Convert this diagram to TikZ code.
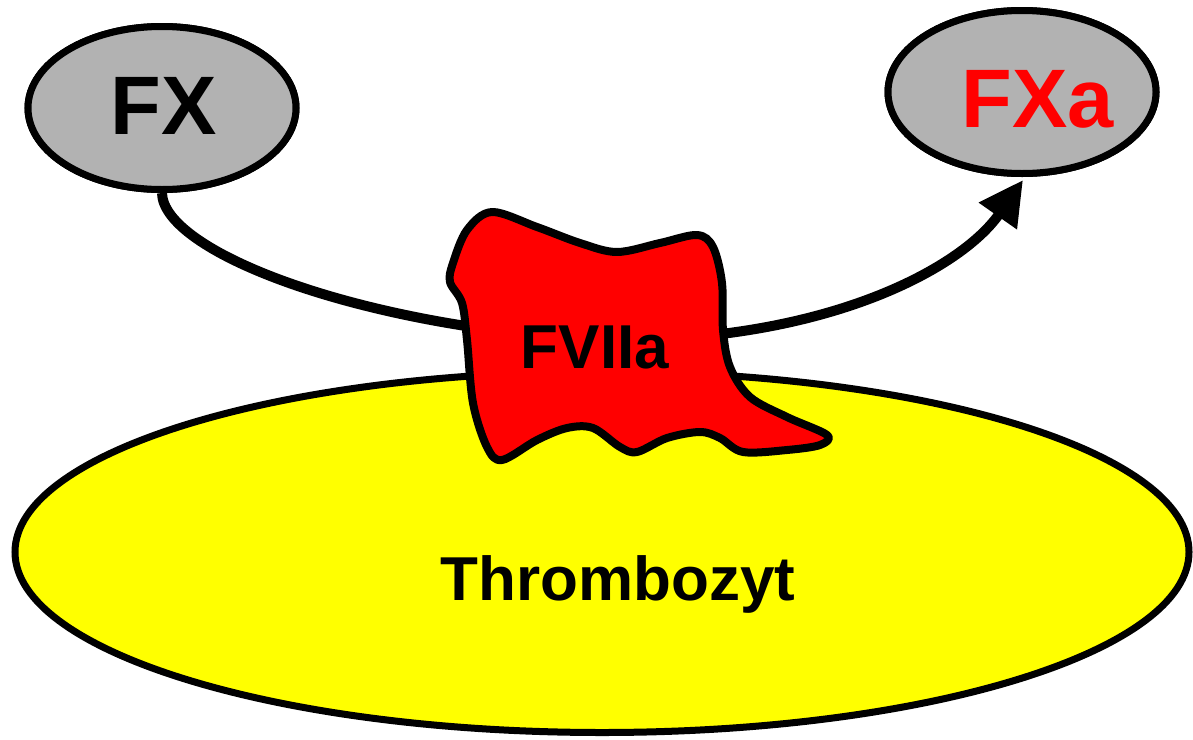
\documentclass[tikz,border=0pt]{standalone}
\usepackage{fontspec}
\setmainfont{Liberation Sans}
\usepackage{tikz}
\usetikzlibrary{shapes.geometric, arrows.meta}
\definecolor{cellyel}{RGB}{255,255,0}
\definecolor{enzred}{RGB}{255,0,0}
\definecolor{protgray}{RGB}{178,178,178}
\tikzset{
  prot/.style={ellipse, draw=black, line width=7pt, fill=protgray,
               minimum width=268pt, minimum height=163pt, inner sep=0pt},
  cell/.style={ellipse, draw=black, line width=7pt, fill=cellyel,
               minimum width=1174pt, minimum height=361pt, inner sep=0pt},
  blob/.style={draw=black, line width=8pt, fill=enzred, line join=round},
  big/.style={font=\bfseries\fontsize{83pt}{90pt}\selectfont, inner sep=0pt, anchor=base},
  mid/.style={font=\bfseries\fontsize{62pt}{70pt}\selectfont, inner sep=0pt, anchor=base},
  fl/.style={-{Triangle[length=44pt, width=44pt]}, line width=10pt, draw=black}
}
\begin{document}
\begin{tikzpicture}[x=1pt, y=-1pt]
\useasboundingbox (0,0) rectangle (1193,739);
\node[cell] (thr) at (602,552) {};
\node[mid] (thrt) at (618,600) {Thrombozyt};
\node[prot] (fx) at (162,108) {};
\node[prot] (fxa) at (1022,92) {};
\coordinate (m) at (595,340);
\draw[fl] (fx.south) .. controls (163,250) and (350,325) .. (m)
  .. controls (820,345) and (960,270) .. (1023,180);
\draw[blob] plot[smooth cycle, tension=0.55] coordinates {
  (492,212) (537,227) (580,243) (617,252) (660,243) (697,235) (713,247)
  (722,283) (723,330) (730,367) (750,397) (787,417) (827,435) (820,445)
  (787,450) (743,452) (720,438) (700,432) (667,438) (637,452) (620,447)
  (593,428) (567,428) (537,440) (502,460) (487,447) (473,403) (467,340)
  (462,303) (450,282) (453,263) (467,230)};
\node[mid] (f7) at (595,368) {FVIIa};
\node[prot] at (fx) {};
\node[prot] at (fxa) {};
\node[big] (fxt) at (164,134) {FX};
\node[big, text=enzred] (fxat) at (1038,127) {FXa};
\end{tikzpicture}
\end{document}
